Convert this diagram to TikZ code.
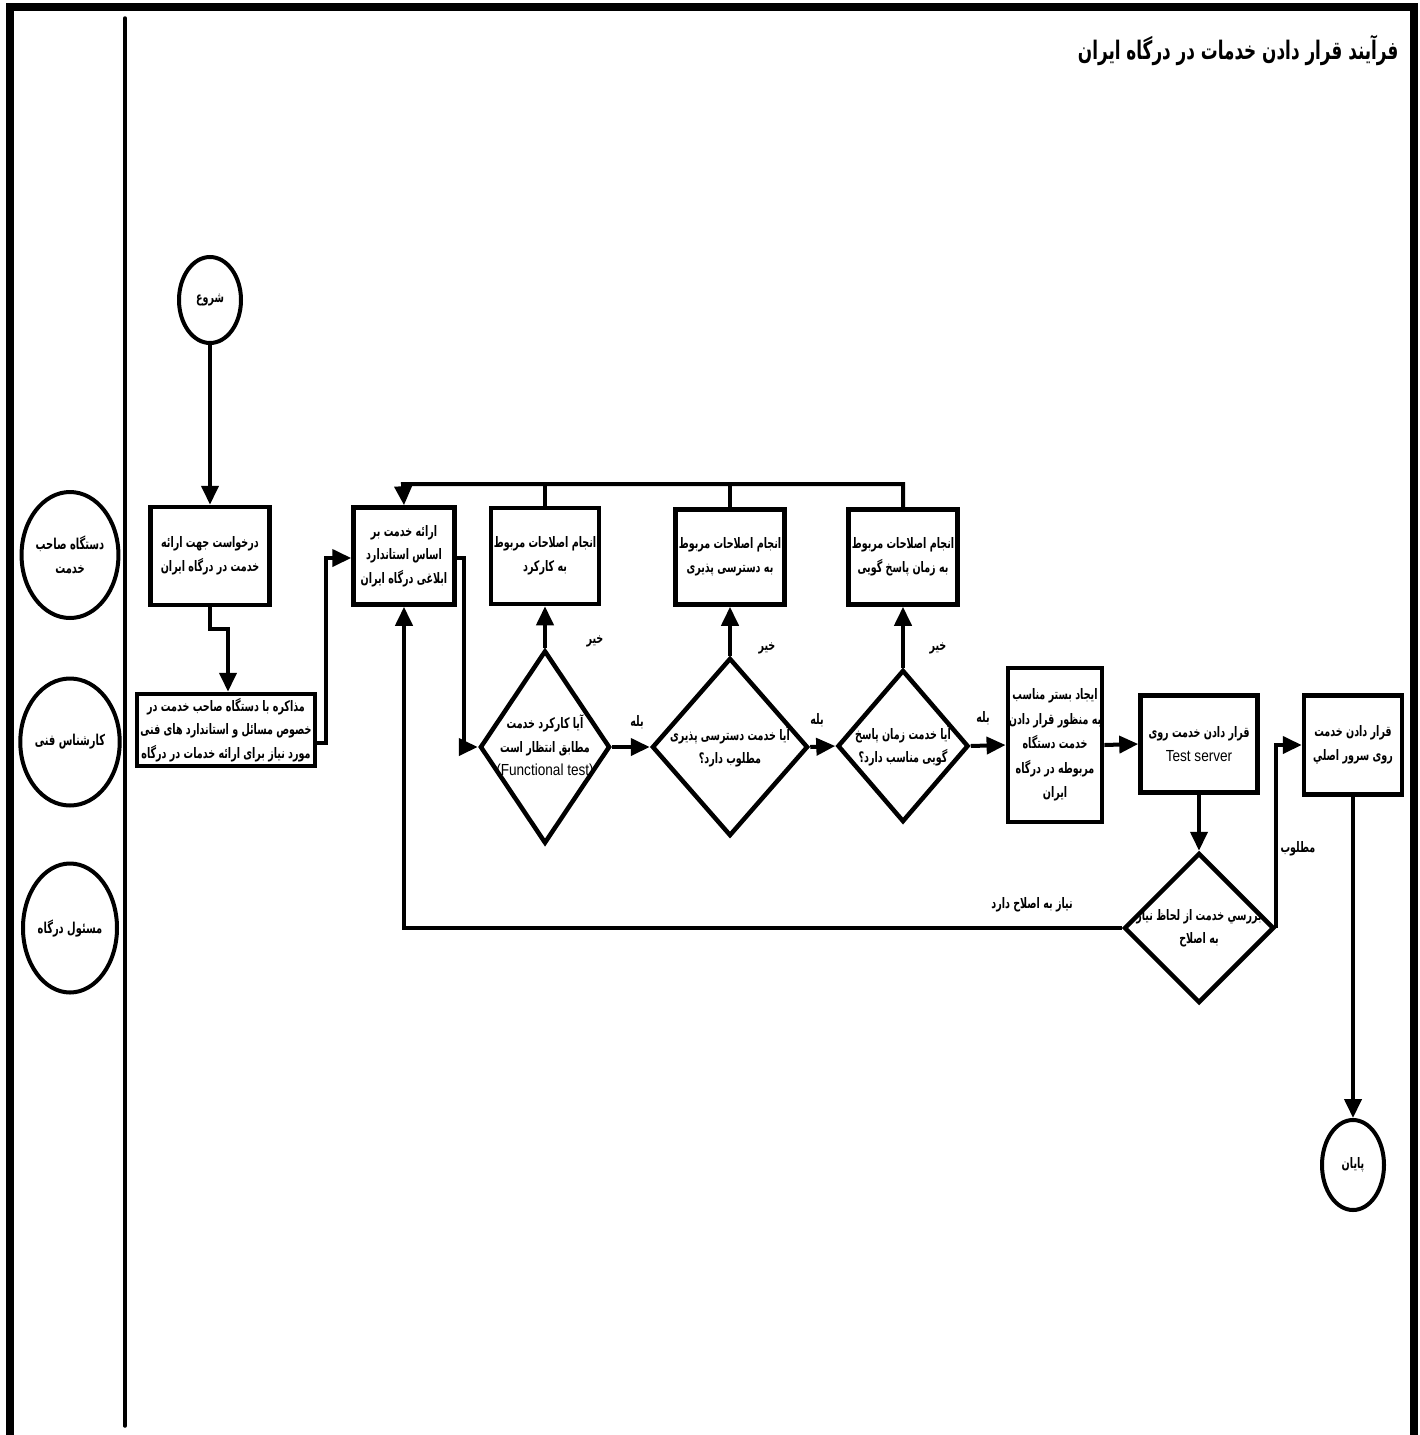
\documentclass[tikz,border=0pt]{standalone}
\usepackage{fontspec}
\usepackage{tikz}
\usetikzlibrary{arrows.meta}
\usetikzlibrary{shapes.geometric, calc}
\TeXXeTstate=1
\newfontfamily\farsi[Script=Arabic, FakeStretch=0.66]{DejaVu Sans}
\newfontfamily\latin[FakeStretch=0.85]{Liberation Sans}
\newcommand{\fa}[1]{\beginR #1\endR}

\begin{document}
\begin{tikzpicture}[x=1pt, y=-1pt,
    box/.style={draw, line width=4.5pt, align=center, inner sep=1pt, font=\farsi\bfseries\fontsize{14.5}{23.5}\selectfont},
    decision/.style={draw, diamond, line width=4.5pt, inner sep=0pt},
    qtext/.style={align=center, font=\farsi\bfseries\fontsize{14.5}{23.5}\selectfont},
    lane/.style={draw, ellipse, line width=4pt, inner sep=0pt, align=center, font=\farsi\bfseries\fontsize{15}{24}\selectfont},
    flow/.style={line width=4pt, -{Triangle[length=19pt,width=17pt]}},
    link/.style={line width=4pt},
    lbl/.style={font=\farsi\bfseries\fontsize{14.5}{16}\selectfont}]
    \useasboundingbox (0,0) rectangle (1419,1435);

    % Cadre et couloirs
    \draw[line width=8pt] (10,1435) -- (10,7) -- (1414,7) -- (1414,1435);
    \draw[line width=3.5pt, line cap=round] (125,18) -- (125,1426);
    \node[anchor=east, font=\farsi\bfseries\fontsize{25.5}{28}\selectfont] (title) at (1402,50) {\fa{فرآیند قرار دادن خدمات در درگاه ایران}};

    % Acteurs
    \node[lane, minimum width=96pt, minimum height=126pt] (owner) at (70,555) {\fa{دستگاه صاحب}\\\fa{خدمت}};
    \node[lane, minimum width=94pt, minimum height=127pt] (expert) at (70,742) {\fa{کارشناس فنی}};
    \node[lane, minimum width=94pt, minimum height=129pt] (admin) at (70,928) {\fa{مسئول درگاه}};

    % Debut
    \node[lane, minimum width=62pt, minimum height=86pt, font=\farsi\bfseries\fontsize{14.5}{20}\selectfont] (start) at (210,300) {\fa{شروع}};
    \node[box, minimum width=119pt, minimum height=98pt] (request) at (210,556) {\fa{درخواست جهت ارائه}\\\fa{خدمت در درگاه ایران}};
    \node[box, minimum width=178pt, minimum height=72pt] (negotiate) at (226,730) {\fa{مذاکره با دستگاه صاحب خدمت در}\\\fa{خصوص مسائل و استاندارد های فنی}\\\fa{مورد نیاز برای ارائه خدمات در درگاه}};
    \node[box, minimum width=101pt, minimum height=97pt] (deliver) at (404,556) {\fa{ارائه خدمت بر}\\\fa{اساس استاندارد}\\\fa{ابلاغی درگاه ایران}};

    % Corrections
    \node[box, minimum width=108pt, minimum height=96pt] (fixfunc) at (545,556) {\fa{انجام اصلاحات مربوط}\\\fa{به کارکرد}};
    \node[box, minimum width=109pt, minimum height=95pt] (fixacc) at (730,557) {\fa{انجام اصلاحات مربوط}\\\fa{به دسترسی پذیری}};
    \node[box, minimum width=109pt, minimum height=95pt] (fixtime) at (903,557) {\fa{انجام اصلاحات مربوط}\\\fa{به زمان پاسخ گویی}};

    % Tests
    \node[decision, minimum width=130pt, minimum height=193pt,
        label={[qtext]center:\beginR آیا کارکرد خدمت\endR\\\beginR مطابق انتظار است\endR\\{\latin\mdseries\fontsize{16}{23}\selectfont (Functional test)}}] (qfunc) at (545,747) {};
    \node[decision, minimum width=156pt, minimum height=178pt,
        label={[qtext]center:\beginR آیا خدمت دسترسی پذیری\endR\\\beginR مطلوب دارد؟\endR}] (qacc) at (730,747) {};
    \node[decision, minimum width=131pt, minimum height=152pt,
        label={[qtext]center:\beginR آیا خدمت زمان پاسخ\endR\\\beginR گویی مناسب دارد؟\endR}] (qtime) at (903,746) {};

    % Mise en service
    \node[box, minimum width=92pt, minimum height=154pt, font=\farsi\bfseries\fontsize{14.5}{24.5}\selectfont] (prepare) at (1055,745) {\fa{ایجاد بستر مناسب}\\\fa{به منظور قرار دادن}\\\fa{خدمت دستگاه}\\\fa{مربوطه در درگاه}\\\fa{ایران}};
    \node[box, minimum width=117pt, minimum height=97pt] (testsrv) at (1199,744) {\fa{قرار دادن خدمت روی}\\{\latin\mdseries\fontsize{16}{23}\selectfont Test server}};
    \node[decision, minimum width=150pt, minimum height=150pt,
        label={[qtext]center:\beginR بررسي خدمت از لحاظ نیاز\endR\\\beginR به اصلاح\endR}] (review) at (1199,928) {};
    \node[box, minimum width=98pt, minimum height=99pt] (mainsrv) at (1353,745) {\fa{قرار دادن خدمت}\\\fa{روی سرور اصلي}};
    \node[lane, minimum width=62pt, minimum height=90pt, font=\farsi\bfseries\fontsize{14.5}{20}\selectfont] (finish) at (1353,1165) {\fa{پایان}};

    % Etiquettes
    \node[lbl] (no1) at (595,641) {\fa{خیر}};
    \node[lbl] (no2) at (767,648) {\fa{خیر}};
    \node[lbl] (no3) at (938,648) {\fa{خیر}};
    \node[lbl] (yes1) at (637,722) {\fa{بله}};
    \node[lbl] (yes2) at (817,720) {\fa{بله}};
    \node[lbl] (yes3) at (983,718) {\fa{بله}};
    \node[lbl] (needfix) at (1032,905) {\fa{نیاز به اصلاح دارد}};
    \node[lbl] (good) at (1298,849) {\fa{مطلوب}};

    % Liaisons
    \coordinate (loop) at (403,484);
    \draw[flow] (start) -- (request);
    \draw[flow] (request.south) -- ++(0,22) -| ([xshift=2pt]negotiate.north);
    \draw[flow] ([yshift=-13pt]negotiate.east) -- ++(9,0) |- ([yshift=-2pt]deliver.west);
    \draw[flow] ([yshift=-2pt]deliver.east) -- ++(7,0) |- (qfunc.west);
    \draw[flow] (qfunc.east) -- (qacc.west);
    \draw[flow] (qacc.east) -- (qtime.west);
    \draw[flow] (qtime.east) -- (prepare.west);
    \draw[flow] (prepare.east) -- (testsrv.west);
    \draw[flow] (testsrv.south) -- (review.north);
    \draw[flow] (qfunc.north) -- (fixfunc.south);
    \draw[flow] (qacc.north) -- (fixacc.south);
    \draw[flow] (qtime.north) -- (fixtime.south);
    \draw[flow] (fixtime.north) |- (loop) -- (deliver.north);
    \draw[link] (fixfunc.north) -- (fixfunc.north |- loop);
    \draw[link] (fixacc.north) -- (fixacc.north |- loop);
    \draw[flow] (review.west) -| (deliver.south);
    \draw[flow] (review.east) |- (mainsrv.west);
    \draw[flow] (mainsrv.south) -- (finish.north);
\end{tikzpicture}
\end{document}
